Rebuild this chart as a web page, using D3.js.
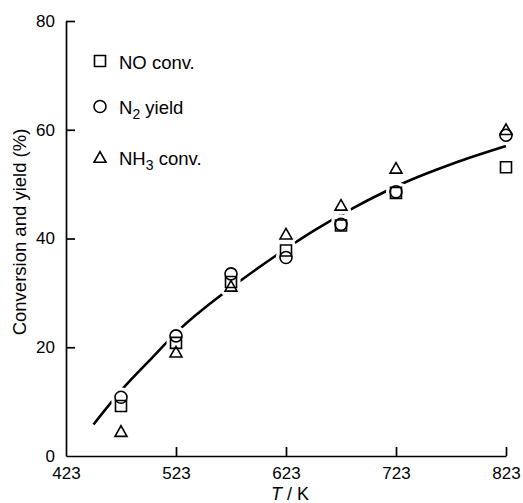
<!DOCTYPE html>
<html>
<head>
<meta charset="utf-8">
<script src="https://cdn.jsdelivr.net/npm/d3@7"></script>
<style>
  html, body { margin: 0; padding: 0; background: #fff; }
  svg { display: block; }
  text { font-family: "Liberation Sans", Arial, sans-serif; fill: #000; }
</style>
</head>
<body>
<svg id="chart" width="523" height="503"></svg>
<script>
// ---- data ----
const temperatures = [473, 523, 573, 623, 673, 723, 823];
const noConv  = [9.2, 20.8, 32.0, 37.8, 42.4, 48.4, 53.1];
const n2Yield = [10.8, 22.1, 33.5, 36.5, 42.6, 48.6, 59.0];
const nh3Conv = [4.5, 19.1, 31.2, 40.8, 46.1, 52.9, 60.0];
const fitT = [448, 476, 499, 528, 566, 584, 612, 648, 684, 712, 731, 775, 823];
const fitV = [5.8, 12.7, 17.6, 23.6, 29.9, 32.6, 36.6, 41.4, 45.6, 48.5, 50.3, 53.8, 57.0];
const xTicks = [423, 523, 623, 723, 823];
const yTicks = [0, 20, 40, 60, 80];
const seriesNames = ["NO conv.", "N2 yield", "NH3 conv."];
const seriesShapes = ["square", "circle", "triangle"];

// ---- layout ----
const svg = d3.select("#chart");
const x = d3.scaleLinear().domain([423, 823]).range([66, 506]);
const y = d3.scaleLinear().domain([0, 80]).range([456, 21]);

const series = [noConv, n2Yield, nh3Conv].map((vals, i) => ({
  name: seriesNames[i], shape: seriesShapes[i],
  points: temperatures.map((t, j) => ({ t, v: vals[j] }))
}));

function shapePath(shape) {
  if (shape === "square") return "M-5.5,-5.5H5.5V5.5H-5.5Z";
  if (shape === "circle") return d3.symbol(d3.symbolCircle, Math.PI * 6 * 6)();
  return "M0,-5.8L6,4.8L-6,4.8Z";
}

// axes
const yAxis = d3.axisLeft(y).tickValues(yTicks).tickSize(-9).tickSizeOuter(0).tickPadding(11);
const xAxis = d3.axisBottom(x).tickValues(xTicks).tickSize(-9).tickSizeOuter(0).tickPadding(11);

const gy = svg.append("g").attr("transform", `translate(${x(423)},0)`).call(yAxis);
const gx = svg.append("g").attr("transform", `translate(0,${y(0)})`).call(xAxis);
[gx, gy].forEach(g => {
  g.selectAll("path.domain").attr("stroke", "#000").attr("stroke-width", 1.7);
  g.selectAll(".tick line").attr("stroke", "#000").attr("stroke-width", 1.7);
  g.selectAll(".tick text").attr("font-size", 17).attr("font-family", "Liberation Sans, Arial, sans-serif");
});
gx.selectAll(".tick").filter(d => d === 423).select("line").remove();
gy.selectAll(".tick").filter(d => d === 0).select("line").remove();

// fit curve
const line = d3.line().x((d, i) => x(fitT[i])).y(d => y(d)).curve(d3.curveMonotoneX);
svg.append("path").datum(fitV).attr("d", line)
  .attr("fill", "none").attr("stroke", "#000").attr("stroke-width", 2.6);

// marker halos (mask the curve)
const allPts = series.flatMap(s => s.points.map(p => ({ ...p, shape: s.shape })));
svg.append("g").selectAll("path").data(allPts).join("path")
  .attr("transform", d => `translate(${x(d.t)},${y(d.v)})`)
  .attr("d", d => shapePath(d.shape))
  .attr("fill", "#fff").attr("stroke", "#fff").attr("stroke-width", 8)
  .attr("stroke-linejoin", "round");

// markers
svg.append("g").selectAll("path").data(allPts).join("path")
  .attr("transform", d => `translate(${x(d.t)},${y(d.v)})`)
  .attr("d", d => shapePath(d.shape))
  .attr("fill", "none").attr("stroke", "#000").attr("stroke-width", 1.6);

// legend
const legendY = [61, 106.5, 157.5];
const leg = svg.append("g");
series.forEach((s, i) => {
  leg.append("path").attr("transform", `translate(100,${legendY[i]})`)
    .attr("d", shapePath(s.shape))
    .attr("fill", "none").attr("stroke", "#000").attr("stroke-width", 1.6);
  const t = leg.append("text").attr("x", 119).attr("y", legendY[i] + 7.5).attr("font-size", 18.5);
  if (i === 0) t.text("NO conv.");
  else if (i === 1) {
    t.append("tspan").text("N");
    t.append("tspan").attr("font-size", 14).attr("dy", 5).text("2");
    t.append("tspan").attr("dy", -5).text(" yield");
  } else {
    t.append("tspan").text("NH");
    t.append("tspan").attr("font-size", 14).attr("dy", 5).text("3");
    t.append("tspan").attr("dy", -5).text(" conv.");
  }
});

// axis titles
svg.append("text").attr("transform", `translate(26,232) rotate(-90)`)
  .attr("text-anchor", "middle").attr("font-size", 18.5).text("Conversion and yield (%)");
const xt = svg.append("text").attr("x", 290).attr("y", 500).attr("text-anchor", "middle").attr("font-size", 18);
xt.append("tspan").attr("font-style", "italic").text("T");
xt.append("tspan").text(" / K");
</script>
</body>
</html>
